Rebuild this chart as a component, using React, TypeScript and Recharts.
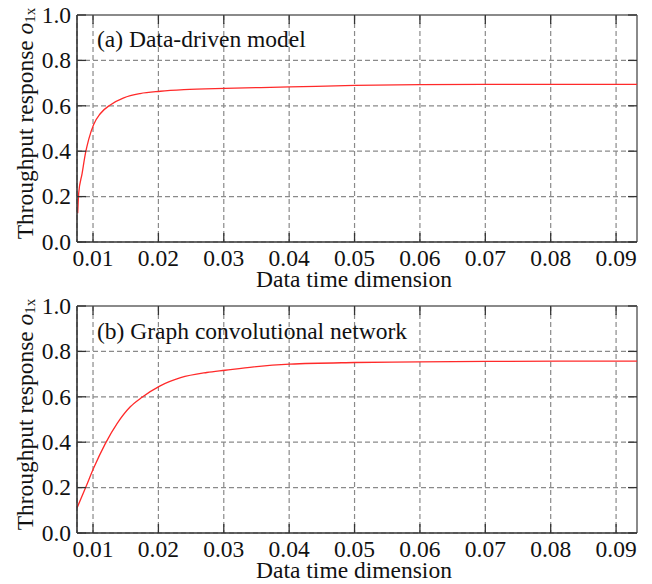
import React from 'react';
import { LineChart, Line, XAxis, YAxis, CartesianGrid, ReferenceLine } from 'recharts';

// ---- data ----
const topX = [0.00766, 0.00781, 0.00832, 0.00884, 0.00934, 0.0101, 0.0111, 0.0127, 0.0147, 0.0172, 0.0203, 0.0239, 0.0301, 0.0401, 0.05, 0.06, 0.0702, 0.0814, 0.0932];
const topY = [0.127, 0.215, 0.3, 0.39, 0.452, 0.518, 0.565, 0.605, 0.635, 0.654, 0.664, 0.671, 0.677, 0.683, 0.69, 0.693, 0.694, 0.694, 0.694];
const botX = [0.00755, 0.00884, 0.0101, 0.0119, 0.0137, 0.0157, 0.0175, 0.0202, 0.0234, 0.0274, 0.0302, 0.0346, 0.0401, 0.05, 0.06, 0.0702, 0.0814, 0.0932];
const botY = [0.11, 0.198, 0.286, 0.395, 0.483, 0.556, 0.598, 0.647, 0.684, 0.707, 0.717, 0.732, 0.744, 0.751, 0.754, 0.756, 0.757, 0.757];
const xTicks = [0.01, 0.02, 0.03, 0.04, 0.05, 0.06, 0.07, 0.08, 0.09];
const yTicks = [0, 0.2, 0.4, 0.6, 0.8, 1.0];
const xLabel = 'Data time dimension';
const yLabelMain = 'Throughput response ';
const yLabelSym = 'o';
const yLabelSub = '1x';
const titles = ['(a) Data-driven model', '(b) Graph convolutional network'];

const X_MIN = 0.00755;
const X_MAX = 0.0932;

const FONT = "'Liberation Serif'";
const FS = 23.5;
const W = 652;
const H = 292;
const Y_W = 77;
const R_M = 15;
const PLOT_H = 227;
const PLOT_W = W - Y_W - R_M;
const TICK_LEN = 9;

const topData = topX.map((x, i) => ({ x, y: topY[i] }));
const botData = botX.map((x, i) => ({ x, y: botY[i] }));

const txtStyle = { fontFamily: FONT, fontSize: FS } as const;

const XTick = (props: any) => {
  const { x, y, payload } = props;
  return (
    <g>
      <line x1={x} y1={y} x2={x} y2={y - TICK_LEN} stroke="#333" strokeWidth={1.3} />
      <line x1={x} y1={y - PLOT_H} x2={x} y2={y - PLOT_H + TICK_LEN} stroke="#333" strokeWidth={1.3} />
      <text x={x} y={y + 23.5} textAnchor="middle" style={txtStyle} fill="#111">
        {payload.value.toFixed(2)}
      </text>
    </g>
  );
};

const YTick = (props: any) => {
  const { x, y, payload } = props;
  return (
    <g>
      <line x1={x} y1={y} x2={x + TICK_LEN} y2={y} stroke="#333" strokeWidth={1.3} />
      <line x1={x + PLOT_W} y1={y} x2={x + PLOT_W - TICK_LEN} y2={y} stroke="#333" strokeWidth={1.3} />
      <text x={x - 6} y={y} dy="0.33em" textAnchor="end" style={txtStyle} fill="#111">
        {payload.value.toFixed(1)}
      </text>
    </g>
  );
};

const XLabel = (props: any) => {
  const vb = props.viewBox || {};
  const cx = vb.x + vb.width / 2 - 3;
  return (
    <text x={cx} y={vb.y + 45} textAnchor="middle" style={txtStyle} fill="#111">
      {xLabel}
    </text>
  );
};

const YLabel = (props: any) => {
  const vb = props.viewBox || {};
  const cx = 25;
  const cy = vb.y + vb.height / 2 - 5;
  return (
    <text
      x={cx}
      y={cy}
      transform={`rotate(-90, ${cx}, ${cy})`}
      textAnchor="middle"
      dominantBaseline="central"
      style={txtStyle}
      fill="#111"
    >
      {yLabelMain}
      <tspan fontStyle="italic">{yLabelSym}</tspan>
      <tspan style={{ fontSize: 15 }} dy={5}>{yLabelSub}</tspan>
    </text>
  );
};

const Panel = ({ data, top }: { data: { x: number; y: number }[]; top: number }) => (
  <LineChart
    width={W}
    height={H}
    data={data}
    margin={{ top, right: R_M, bottom: 0, left: 0 }}
  >
    <CartesianGrid stroke="#8a8a8a" strokeDasharray="5 3" strokeWidth={1.2} />
    <XAxis
      dataKey="x"
      type="number"
      domain={[X_MIN, X_MAX]}
      ticks={xTicks}
      allowDataOverflow
      height={H - top - PLOT_H}
      tickSize={0}
      tickMargin={0}
      tickLine={false}
      axisLine={{ stroke: '#333', strokeWidth: 1.6 }}
      tick={XTick}
      interval={0}
      label={<XLabel />}
    />
    <YAxis
      type="number"
      domain={[0, 1]}
      ticks={yTicks}
      width={Y_W}
      tickSize={0}
      tickMargin={0}
      tickLine={false}
      axisLine={{ stroke: '#333', strokeWidth: 1.6 }}
      tick={YTick}
      interval={0}
      label={<YLabel />}
    />
    <ReferenceLine y={1} stroke="#8a8a8a" strokeWidth={2} />
    <ReferenceLine x={X_MAX} stroke="#8a8a8a" strokeWidth={2} />
    <Line
      type="monotone"
      dataKey="y"
      stroke="#ff2a2a"
      strokeWidth={1.3}
      dot={false}
      isAnimationActive={false}
    />
  </LineChart>
);

export default function App() {
  return (
    <div style={{ position: 'absolute', left: 0, top: 0, width: W, height: 584, background: '#fff' }}>
      <div style={{ position: 'absolute', left: 0, top: 0 }}>
        <Panel data={topData} top={15} />
      </div>
      <div style={{ position: 'absolute', left: 0, top: H }}>
        <Panel data={botData} top={14} />
      </div>
      <svg
        width={W}
        height={584}
        style={{ position: 'absolute', left: 0, top: 0, pointerEvents: 'none' }}
      >
        <text x={97} y={46.5} style={txtStyle} fill="#111">{titles[0]}</text>
        <text x={97} y={339} style={txtStyle} fill="#111">{titles[1]}</text>
      </svg>
    </div>
  );
}
